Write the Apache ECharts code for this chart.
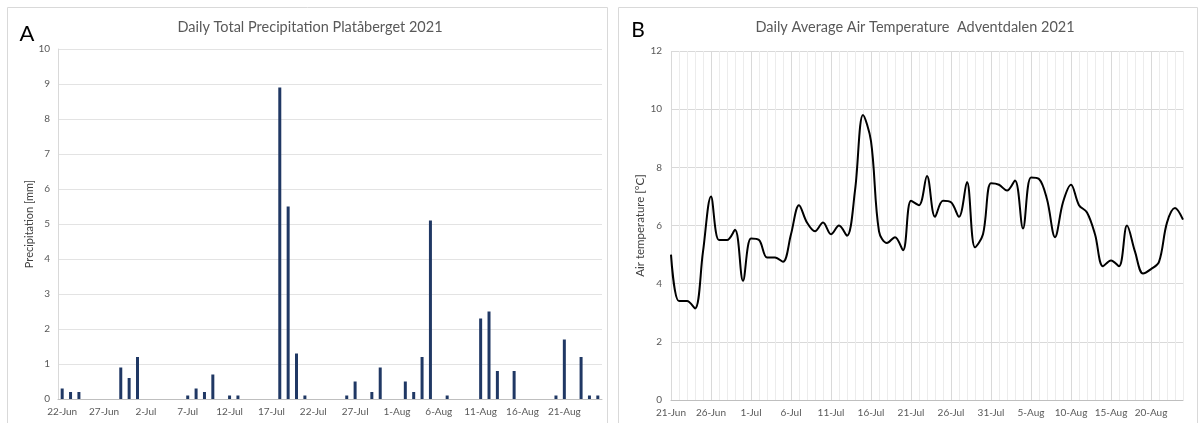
<!DOCTYPE html>
<html>
<head>
<meta charset="utf-8">
<script src="https://cdn.jsdelivr.net/npm/echarts@6/dist/echarts.min.js"></script>
<style>
html,body{margin:0;padding:0;background:#fff;}
#c{width:1203px;height:423px;}
</style>
</head>
<body>
<div id="c"></div>
<script>
const precipDates = ['22-Jun','23-Jun','24-Jun','25-Jun','26-Jun','27-Jun','28-Jun','29-Jun','30-Jun',
  '1-Jul','2-Jul','3-Jul','4-Jul','5-Jul','6-Jul','7-Jul','8-Jul','9-Jul','10-Jul','11-Jul','12-Jul','13-Jul','14-Jul','15-Jul','16-Jul','17-Jul','18-Jul','19-Jul','20-Jul','21-Jul','22-Jul','23-Jul','24-Jul','25-Jul','26-Jul','27-Jul','28-Jul','29-Jul','30-Jul','31-Jul',
  '1-Aug','2-Aug','3-Aug','4-Aug','5-Aug','6-Aug','7-Aug','8-Aug','9-Aug','10-Aug','11-Aug','12-Aug','13-Aug','14-Aug','15-Aug','16-Aug','17-Aug','18-Aug','19-Aug','20-Aug','21-Aug','22-Aug','23-Aug','24-Aug','25-Aug'];
const precipValues = [0.3,0.2,0.2,0,0,0,0,0.9,0.6,
  1.2,0,0,0,0,0,0.1,0.3,0.2,0.7,0,0.1,0.1,0,0,0,0,8.9,5.5,1.3,0.1,0,0,0,0,0.1,0.5,0,0.2,0.9,0,
  0,0.5,0.2,1.2,5.1,0,0.1,0,0,0,2.3,2.5,0.8,0,0.8,0,0,0,0,0.1,1.7,0,1.2,0.1,0.1];
const precipTicks = [0,1,2,3,4,5,6,7,8,9,10];

const tempDates = ['21-Jun','22-Jun','23-Jun','24-Jun','25-Jun','26-Jun','27-Jun','28-Jun','29-Jun','30-Jun',
  '1-Jul','2-Jul','3-Jul','4-Jul','5-Jul','6-Jul','7-Jul','8-Jul','9-Jul','10-Jul','11-Jul','12-Jul','13-Jul','14-Jul','15-Jul','16-Jul','17-Jul','18-Jul','19-Jul','20-Jul','21-Jul','22-Jul','23-Jul','24-Jul','25-Jul','26-Jul','27-Jul','28-Jul','29-Jul','30-Jul','31-Jul',
  '1-Aug','2-Aug','3-Aug','4-Aug','5-Aug','6-Aug','7-Aug','8-Aug','9-Aug','10-Aug','11-Aug','12-Aug','13-Aug','14-Aug','15-Aug','16-Aug','17-Aug','18-Aug','19-Aug','20-Aug','21-Aug','22-Aug','23-Aug','24-Aug'];
const tempValues = [5.0,3.4,3.4,3.15,5.1,7.0,5.5,5.5,5.85,4.1,
  5.55,5.5,4.9,4.9,4.75,5.7,6.7,6.1,5.8,6.1,5.7,6.0,5.65,7.2,9.8,8.9,5.8,5.4,5.6,5.15,6.85,6.7,7.7,6.3,6.85,6.8,6.3,7.5,5.25,5.7,7.45,
  7.4,7.2,7.55,5.9,7.65,7.6,6.9,5.6,6.8,7.4,6.7,6.45,5.7,4.6,4.8,4.6,6.0,5.1,4.35,4.5,4.75,6.1,6.6,6.2];
const tempTicks = [0,2,4,6,8,10,12];

const FONT = 'Lato, "Liberation Sans", sans-serif';
const chart = echarts.init(document.getElementById('c'), null, {renderer:'canvas'});
const minorGrid = '#ececec', majorGrid = '#d9d9d9';
chart.setOption({
  animation:false,
  textStyle:{fontFamily:FONT},
  graphic:[
    {type:'rect', shape:{x:7.5,y:7.5,width:600,height:430}, style:{fill:null, stroke:'#d9d9d9', lineWidth:1}, z:-10},
    {type:'rect', shape:{x:618.5,y:7.5,width:579,height:430}, style:{fill:null, stroke:'#d9d9d9', lineWidth:1}, z:-10},
    {type:'text', x:27, y:34, style:{text:'A', font:'22px '+FONT, fill:'#000', textAlign:'center', textVerticalAlign:'middle'}},
    {type:'text', x:638, y:30, style:{text:'B', font:'21px '+FONT, fill:'#000', textAlign:'center', textVerticalAlign:'middle'}},
    {type:'text', x:310, y:27, style:{text:'Daily Total Precipitation Platåberget 2021', font:'14.5px '+FONT, fill:'#595959', textAlign:'center', textVerticalAlign:'middle'}},
    {type:'text', x:915, y:27, style:{text:'Daily Average Air Temperature  Adventdalen 2021', font:'14.5px '+FONT, fill:'#595959', textAlign:'center', textVerticalAlign:'middle'}}
  ],
  grid:[
    {left:58, top:49, width:544, height:350},
    {left:671, top:51, width:512, height:349}
  ],
  xAxis:[
    {gridIndex:0, type:'category', data:precipDates, boundaryGap:true,
     axisTick:{show:false}, axisLine:{lineStyle:{color:'#bfbfbf'}},
     axisLabel:{interval:4, color:'#595959', fontSize:10, margin:8, fontFamily:FONT},
     splitLine:{show:false}},
    {gridIndex:1, type:'category', data:tempDates, boundaryGap:false,
     axisTick:{show:false}, axisLine:{lineStyle:{color:'#bfbfbf'}},
     axisLabel:{interval:4, color:'#595959', fontSize:10, margin:8, fontFamily:FONT},
     splitLine:{show:true, interval:0, lineStyle:{color:[majorGrid,minorGrid,minorGrid,minorGrid,minorGrid], width:1}}}
  ],
  yAxis:[
    {gridIndex:0, type:'value', min:precipTicks[0], max:precipTicks[precipTicks.length-1], interval:1,
     axisLine:{show:true, lineStyle:{color:'#d9d9d9'}}, axisTick:{show:false},
     splitLine:{lineStyle:{color:'#e3e3e3'}},
     axisLabel:{color:'#595959', fontSize:10, margin:8, fontFamily:FONT},
     name:'Precipitation [mm]', nameLocation:'middle', nameGap:21,
     nameTextStyle:{color:'#404040', fontSize:11, fontFamily:FONT}},
    {gridIndex:1, type:'value', min:tempTicks[0], max:tempTicks[tempTicks.length-1], interval:2,
     axisLine:{show:false}, axisTick:{show:false},
     splitLine:{lineStyle:{color:majorGrid}},
     axisLabel:{color:'#595959', fontSize:10, margin:9, fontFamily:FONT},
     name:'Air temperature [°C]', nameLocation:'middle', nameGap:22,
     nameTextStyle:{color:'#404040', fontSize:11.5, fontFamily:FONT}}
  ],
  series:[
    {type:'bar', xAxisIndex:0, yAxisIndex:0, data:precipValues, barWidth:3,
     itemStyle:{color:'#203864'}},
    {type:'line', xAxisIndex:1, yAxisIndex:1, data:tempValues, smooth:0.35,
     showSymbol:false, lineStyle:{color:'#000', width:2}}
  ]
});
</script>
</body>
</html>
